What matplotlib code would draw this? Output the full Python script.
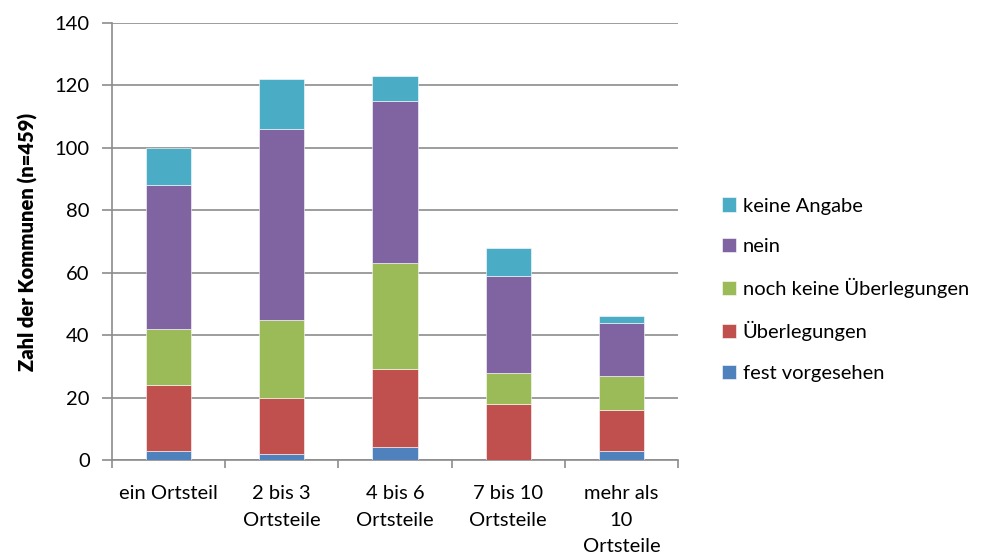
import numpy as np
import matplotlib.pyplot as plt

plt.rcParams['font.family'] = ['Lato', 'DejaVu Sans']

# categories and stacked series (number of municipalities)
categories = ['ein Ortsteil', '2 bis 3\nOrtsteile', '4 bis 6\nOrtsteile',
              '7 bis 10\nOrtsteile', 'mehr als\n10\nOrtsteile']
fest_vorgesehen = [3, 2, 4, 0, 3]
ueberlegungen = [21, 18, 25, 18, 13]
noch_keine = [18, 25, 34, 10, 11]
nein = [46, 61, 52, 31, 17]
keine_angabe = [12, 16, 8, 9, 2]

series = [
    ('fest vorgesehen', fest_vorgesehen, '#4F81BD'),
    ('Überlegungen', ueberlegungen, '#C0504D'),
    ('noch keine Überlegungen', noch_keine, '#9BBB59'),
    ('nein', nein, '#8064A2'),
    ('keine Angabe', keine_angabe, '#4BACC6'),
]

fig = plt.figure(figsize=(9.97, 5.6), dpi=100)
ax = fig.add_axes([0.1123, 0.1786, 0.5677, 0.7803])

grid_col = '#8c8c8c'
x = np.arange(len(categories))
bottom = np.zeros(len(categories))
handles = []
for name, vals, col in series:
    b = ax.bar(x, vals, width=0.4, bottom=bottom, color=col,
               edgecolor='white', linewidth=0.4, label=name, zorder=3)
    handles.append(b)
    bottom += np.array(vals)

ax.set_xlim(-0.5, len(categories) - 0.5)
ax.set_ylim(0, 140)
ax.set_yticks(range(0, 141, 20))
ax.yaxis.grid(True, color=grid_col, linewidth=1.2, zorder=0)
ax.set_axisbelow(True)

for s in ['top', 'right']:
    ax.spines[s].set_visible(False)
ax.spines['left'].set_color(grid_col)
ax.spines['bottom'].set_color(grid_col)
ax.spines['left'].set_linewidth(1.2)
ax.spines['bottom'].set_linewidth(1.2)

# category labels between boundary ticks
ax.set_xticks(np.arange(-0.5, len(categories), 1.0))
ax.set_xticklabels([])
ax.set_xticks(x, minor=True)
ax.set_xticklabels(categories, minor=True, fontsize=14.5, va='top', linespacing=1.68)
ax.tick_params(axis='x', which='minor', length=0, pad=18)
ax.tick_params(axis='x', which='major', length=6, color=grid_col, width=1.2)
ax.tick_params(axis='y', length=7, color=grid_col, width=1.2, labelsize=14.5, pad=9)

ax.set_ylabel('Zahl der Kommunen (n=459)', fontsize=14.5, fontweight='heavy', labelpad=12)

ax.legend(handles[::-1], [s[0] for s in series][::-1], loc='center left',
          bbox_to_anchor=(1.045, 0.39), frameon=False, fontsize=14.5,
          handlelength=0.7, handleheight=0.7, handletextpad=0.35,
          labelspacing=1.15)

fig.savefig('out.png', dpi=100)
